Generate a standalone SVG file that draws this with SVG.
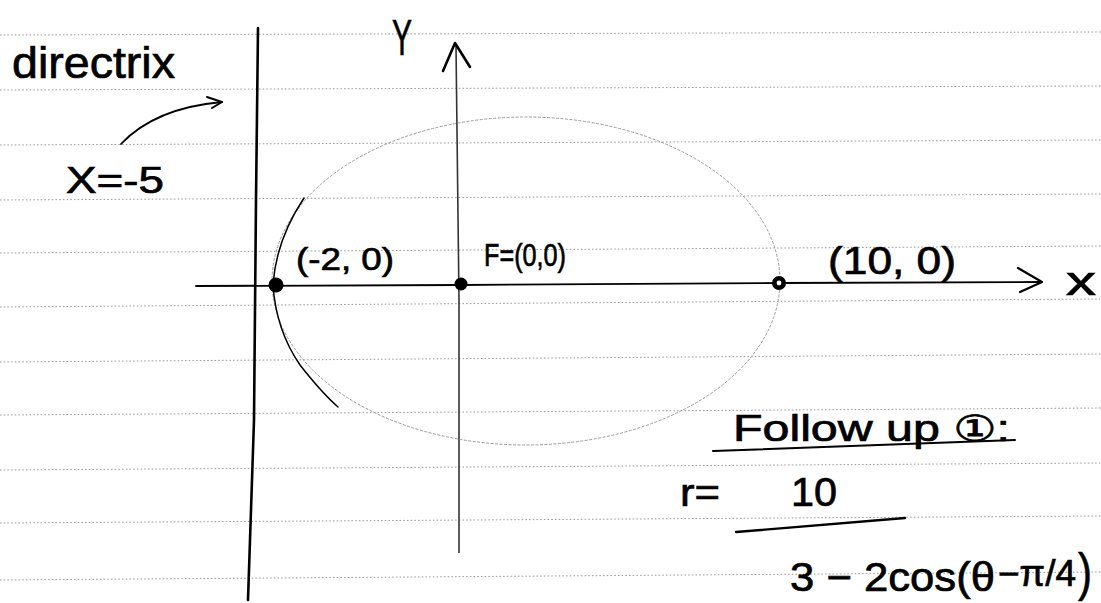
<svg xmlns="http://www.w3.org/2000/svg" width="1101" height="603" viewBox="0 0 1101 603">
<style>
.rule{stroke:#8a8a8a;stroke-width:0.9;stroke-dasharray:1.5 2.2;fill:none}
.ink{stroke:#000;fill:none;stroke-linecap:round;stroke-linejoin:round}
.hand{font-family:"Liberation Sans","DejaVu Sans",sans-serif;fill:#000;stroke:#000;stroke-width:0.7}
</style>
<rect width="1101" height="603" fill="#fff"/>
<g id="paper">
<line class="rule" x1="0" y1="35" x2="1101" y2="32"/>
<line class="rule" x1="0" y1="90" x2="1101" y2="86"/>
<line class="rule" x1="0" y1="145" x2="1101" y2="140"/>
<line class="rule" x1="0" y1="200" x2="1101" y2="194"/>
<line class="rule" x1="0" y1="253" x2="1101" y2="246"/>
<line class="rule" x1="0" y1="307" x2="1101" y2="299"/>
<line class="rule" x1="0" y1="362" x2="1101" y2="354"/>
<line class="rule" x1="0" y1="415" x2="1101" y2="408"/>
<line class="rule" x1="0" y1="470" x2="1101" y2="463"/>
<line class="rule" x1="0" y1="523" x2="1101" y2="516"/>
<line class="rule" x1="0" y1="580" x2="1101" y2="572"/>
</g>
<g id="connectors">
<path id="directrix-line" class="ink" stroke-width="2.6" d="M258 28 L256 200 L254 420 L248 600"/>
<path id="x-axis" class="ink" stroke-width="1.8" d="M196 286 L460 285 L780 283 L1040 282"/>
<path class="ink" stroke-width="2.2" d="M1018 268 L1042 282 L1020 292"/>
<path id="y-axis" stroke="#333" stroke-width="1.6" fill="none" d="M456 46 L459 300 L459 553"/>
<path class="ink" stroke-width="2.6" d="M443 71 L455 43 L470 67"/>
<path id="directrix-arrow" class="ink" stroke-width="1.8" d="M121 144 Q155 108 222 102"/>
<path class="ink" stroke-width="2" d="M207 97 L222 102 L212 108"/>
</g>
<g id="ellipse">
<ellipse cx="526" cy="281" rx="254" ry="164" fill="none" stroke="#9a9a9a" stroke-width="1" stroke-dasharray="3 1.5"/>
<path class="ink" stroke-width="1.5" d="M304 198 Q276 240 273 285 Q276 330 300 365 Q322 393 338 407"/>
</g>
<g id="point-left">
<circle cx="276" cy="285" r="7.5" fill="#000"/>
<text class="hand" x="296" y="270" font-size="32" textLength="98" lengthAdjust="spacingAndGlyphs">(-2, 0)</text>
</g>
<g id="point-focus">
<circle cx="461" cy="284" r="6.5" fill="#000"/>
<text class="hand" x="484" y="266" font-size="32" textLength="82" lengthAdjust="spacingAndGlyphs">F=(0,0)</text>
</g>
<g id="point-right">
<circle cx="779" cy="283" r="7" fill="#000"/>
<circle cx="779" cy="283" r="2.4" fill="#fff"/>
<text class="hand" x="828" y="274" font-size="38" textLength="128" lengthAdjust="spacingAndGlyphs">(10, 0)</text>
</g>
<g id="labels">
<text class="hand" x="12" y="78" font-size="44" textLength="163" lengthAdjust="spacingAndGlyphs">directrix</text>
<text class="hand" x="66" y="193" font-size="36" textLength="98" lengthAdjust="spacingAndGlyphs">X=-5</text>
<text class="hand" x="392" y="55" font-size="50" textLength="20" lengthAdjust="spacingAndGlyphs">Y</text>
<text class="hand" x="1066" y="295" font-size="40" textLength="30" lengthAdjust="spacingAndGlyphs">x</text>
</g>
<g id="note">
<text class="hand" x="733" y="441" font-size="36" textLength="277" lengthAdjust="spacingAndGlyphs">Follow up ①:</text>
<path class="ink" stroke-width="2" d="M713 451 L1015 440"/>
<text class="hand" x="680" y="506" font-size="38" textLength="40" lengthAdjust="spacingAndGlyphs">r=</text>
<text class="hand" x="791" y="506" font-size="40" textLength="46" lengthAdjust="spacingAndGlyphs">10</text>
<path class="ink" stroke-width="2.4" d="M736 532 L905 518"/>
<text class="hand" x="790" y="591" font-size="40" textLength="205" lengthAdjust="spacingAndGlyphs">3 − 2cos(θ</text>
<text class="hand" x="998" y="586" font-size="36" textLength="78" lengthAdjust="spacingAndGlyphs">−π/4</text>
<text class="hand" x="1078" y="590" font-size="52" textLength="14" lengthAdjust="spacingAndGlyphs">)</text>
</g>
</svg>
